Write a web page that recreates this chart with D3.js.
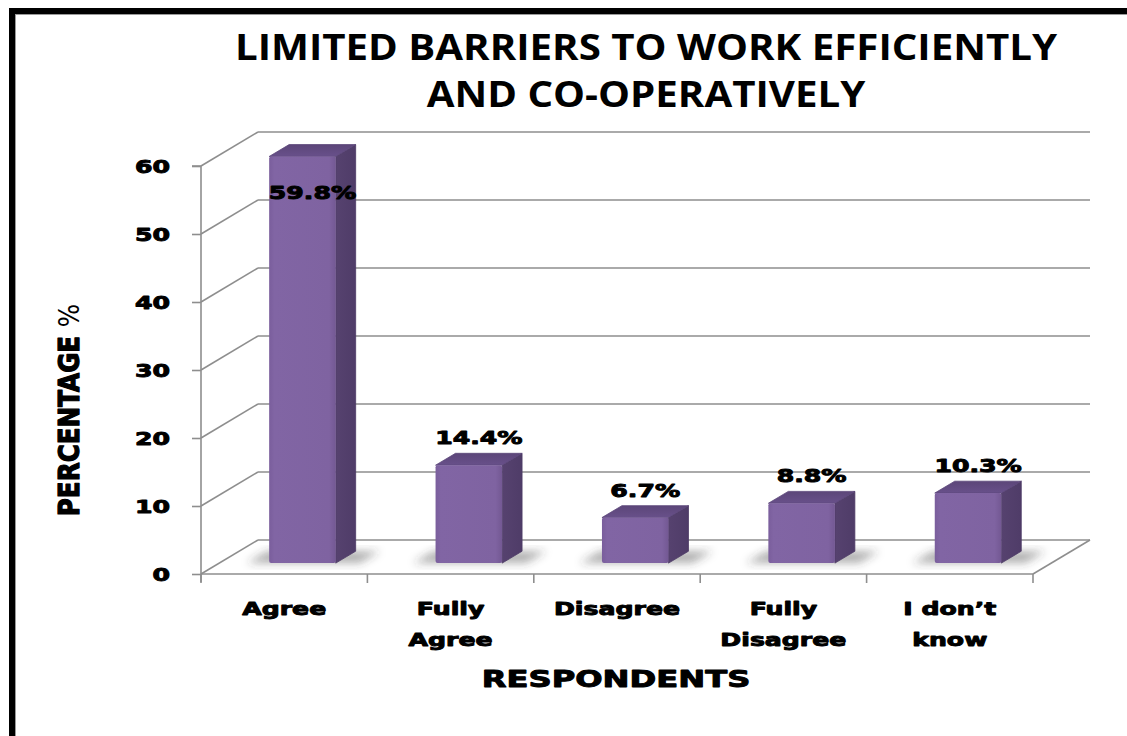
<!DOCTYPE html>
<html>
<head>
<meta charset="utf-8">
<script src="https://cdn.jsdelivr.net/npm/d3@7"></script>
<style>
  html, body { margin: 0; padding: 0; background: #fff; }
  svg { display: block; }
</style>
</head>
<body>
<svg id="chart" width="1127" height="736"></svg>
<script>
// Survey responses: share of respondents per answer
const categories = ["Agree", "Fully Agree", "Disagree", "Fully Disagree", "I don't know"];
const categoryLines = [["Agree"], ["Fully", "Agree"], ["Disagree"], ["Fully", "Disagree"], ["I don\u2019t", "know"]];
const values = [59.8, 14.4, 6.7, 8.8, 10.3];
const yTicks = [0, 10, 20, 30, 40, 50, 60];
const titleLines = ["LIMITED BARRIERS TO WORK EFFICIENTLY", "AND CO-OPERATIVELY"];
const yTitle = "PERCENTAGE";
const xTitle = "RESPONDENTS";

const svg = d3.select("#chart");
const W = 1127, H = 736;

// 3D geometry: front plane scales plus an oblique depth offset
const x = d3.scaleBand().domain(categories).range([201, 1033]).paddingInner(0.6).paddingOuter(0.3);
const y = d3.scaleLinear().domain([0, 60]).range([574, 166]);
const DX = 57, DY = -34;          // full depth of the floor / walls
const barFront = 0.32, barDepth = 0.35;
const px = (xv, t) => xv + DX * t;
const py = (yv, t) => yv + DY * t;

const labelFont = "'DejaVu Sans', 'Liberation Sans', Arial, sans-serif";
const SX = 1.4;
const HEAVY = 0.95;

const defs = svg.append("defs");
const blur = defs.append("filter").attr("id", "shadowBlur")
  .attr("x", "-50%").attr("y", "-50%").attr("width", "200%").attr("height", "200%");
blur.append("feGaussianBlur").attr("stdDeviation", 4);

const gFront = defs.append("linearGradient").attr("id", "frontGrad").attr("x1", 0).attr("x2", 1).attr("y1", 0).attr("y2", 0);
gFront.append("stop").attr("offset", "0%").attr("stop-color", "#7a5e9c");
gFront.append("stop").attr("offset", "8%").attr("stop-color", "#8165a4");
gFront.append("stop").attr("offset", "90%").attr("stop-color", "#7f63a1");
gFront.append("stop").attr("offset", "100%").attr("stop-color", "#735893");

const gSide = defs.append("linearGradient").attr("id", "sideGrad").attr("x1", 0).attr("x2", 1).attr("y1", 0).attr("y2", 0);
gSide.append("stop").attr("offset", "0%").attr("stop-color", "#56426f");
gSide.append("stop").attr("offset", "100%").attr("stop-color", "#4f3c68");

const gTop = defs.append("linearGradient").attr("id", "topGrad").attr("x1", 0).attr("x2", 0).attr("y1", 0).attr("y2", 1);
gTop.append("stop").attr("offset", "0%").attr("stop-color", "#5c4679");
gTop.append("stop").attr("offset", "100%").attr("stop-color", "#68508a");

// Background and frame
svg.append("rect").attr("width", W).attr("height", H).attr("fill", "#fff");
svg.append("rect").attr("x", 9).attr("y", 8).attr("width", W - 9).attr("height", 6).attr("fill", "#000");
svg.append("rect").attr("x", 9).attr("y", 8).attr("width", 6).attr("height", H - 8).attr("fill", "#000");
svg.append("line").attr("x1", 15).attr("x2", W).attr("y1", 14.5).attr("y2", 14.5).attr("stroke", "#9a9a9a").attr("stroke-width", 1);
svg.append("line").attr("x1", 15.5).attr("x2", 15.5).attr("y1", 14).attr("y2", H).attr("stroke", "#9a9a9a").attr("stroke-width", 1);

// Title
const title = svg.append("g").attr("font-family", "'Open Sans', 'Noto Sans', sans-serif")
  .attr("font-weight", 700).attr("font-size", 35).attr("fill", "#000").attr("text-anchor", "middle");
titleLines.forEach((t, i) => {
  title.append("g").attr("transform", `translate(646,${60 + i * 47}) scale(1.15,1)`)
    .append("text").attr("x", 0).attr("y", 0).text(t);
});

const x0 = x.range()[0], x1 = x.range()[1];
const gridColor = "#8e8e8e";

// Floor
const floor = [[x0, y(0)], [x1, y(0)], [px(x1, 1), py(y(0), 1)], [px(x0, 1), py(y(0), 1)]];
svg.append("path").attr("d", d3.line()(floor) + "Z").attr("fill", "#fff");

// Back wall gridlines + side wall diagonals
const grid = svg.append("g").attr("stroke", gridColor).attr("stroke-width", 1.6).attr("fill", "none");
yTicks.forEach(v => {
  grid.append("line").attr("x1", px(x0, 1)).attr("x2", px(x1, 1))
    .attr("y1", py(y(v), 1)).attr("y2", py(y(v), 1));
  grid.append("line").attr("x1", x0).attr("x2", px(x0, 1))
    .attr("y1", y(v)).attr("y2", py(y(v), 1));
});

// Floor edges (front and right)
grid.append("line").attr("x1", x0).attr("x2", x1).attr("y1", y(0)).attr("y2", y(0));
grid.append("line").attr("x1", x1).attr("x2", px(x1, 1)).attr("y1", y(0)).attr("y2", py(y(0), 1));

// Value axis (front-left edge) with ticks
const yAxis = svg.append("g").attr("transform", `translate(${x0},0)`)
  .call(d3.axisLeft(y).tickValues(yTicks).tickSize(9).tickFormat(""));
yAxis.select(".domain").attr("stroke", gridColor).attr("stroke-width", 1.6).attr("d", `M-9,${y(60)}H0V${y(0) + 8}`);
yAxis.selectAll(".tick line").attr("stroke", gridColor).attr("stroke-width", 1.6);

// Category ticks on the floor front edge
const bounds = categories.map(c => x(c) - x.step() * x.paddingOuter()).concat([x1]);
svg.append("g").selectAll("line").data(bounds).join("line")
  .attr("x1", d => d).attr("x2", d => d).attr("y1", y(0)).attr("y2", y(0) + 9)
  .attr("stroke", gridColor).attr("stroke-width", 1.6);

// Heavy, wide label text
function wideText(parent, xPos, yPos, str, size, anchor) {
  const g = parent.append("g").attr("transform", `translate(${xPos},${yPos}) scale(${SX},1)`);
  return g.append("text").attr("text-anchor", anchor || "middle")
    .attr("font-family", labelFont).attr("font-weight", 700).attr("font-size", size)
    .attr("fill", "#000").attr("stroke", "#000").attr("stroke-width", HEAVY)
    .attr("stroke-linejoin", "round")
    .text(str);
}
const tickLabels = svg.append("g");
yTicks.forEach(v => wideText(tickLabels, 170, y(v) + 6.5, String(v), 18, "end"));

// Category labels
const catLabels = svg.append("g");
categories.forEach((c, i) => {
  const cx = x(c) + x.bandwidth() / 2;
  categoryLines[i].forEach((line, j) => wideText(catLabels, cx, 615 + j * 31, line, 18));
});

// Axis titles
wideText(svg, 616, 687, xTitle, 23);
const yt = svg.append("g").attr("transform", `translate(79,410) rotate(-90) scale(1.12,1.32)`)
  .append("text").attr("text-anchor", "middle")
  .attr("font-family", labelFont).attr("font-size", 22).attr("fill", "#000");
yt.append("tspan").attr("font-weight", 700).attr("stroke", "#000").attr("stroke-width", HEAVY)
  .attr("stroke-linejoin", "round").text(yTitle + " ");
yt.append("tspan").attr("font-weight", 400).text("%");

// Bars
const bars = svg.append("g");
const data = categories.map((c, i) => ({ c, v: values[i] }));

// soft floor shadows beneath each bar
bars.append("g").attr("filter", "url(#shadowBlur)").selectAll("path").data(data).join("path")
  .attr("d", d => {
    const a = x(d.c) - 22, b = x(d.c) + x.bandwidth() + 24;
    const t0 = barFront, t1 = barFront + barDepth;
    return d3.line()([[px(a, t0), py(y(0), t0)], [px(b, t0), py(y(0), t0)],
                      [px(b, t1), py(y(0), t1)], [px(a, t1), py(y(0), t1)]]) + "Z";
  })
  .attr("fill", "#3a3a3a").attr("opacity", 0.4);

data.forEach(d => {
  const l = x(d.c), r = x(d.c) + x.bandwidth();
  const t0 = barFront, t1 = barFront + barDepth;
  const yb = y(0), yt0 = y(d.v);
  const g = bars.append("g");
  // side face
  g.append("path").attr("d", d3.line()([[px(r, t0), py(yb, t0)], [px(r, t1), py(yb, t1)],
                                         [px(r, t1), py(yt0, t1)], [px(r, t0), py(yt0, t0)]]) + "Z")
    .attr("fill", "url(#sideGrad)").attr("stroke", "#4d3a66").attr("stroke-width", 0.8).attr("stroke-linejoin", "round");
  // top face
  g.append("path").attr("d", d3.line()([[px(l, t0), py(yt0, t0)], [px(r, t0), py(yt0, t0)],
                                         [px(r, t1), py(yt0, t1)], [px(l, t1), py(yt0, t1)]]) + "Z")
    .attr("fill", "url(#topGrad)").attr("stroke", "#5b4578").attr("stroke-width", 0.8).attr("stroke-linejoin", "round");
  // front face
  g.append("rect").attr("x", px(l, t0)).attr("y", py(yt0, t0))
    .attr("width", r - l).attr("height", yb - yt0).attr("rx", 2)
    .attr("fill", "url(#frontGrad)");
});

// Value labels
const valLabels = svg.append("g");
data.forEach(d => {
  const l = x(d.c);
  const frontTop = py(y(d.v), barFront);
  const cx = px(l, barFront) + x.bandwidth() / 2 + 10;
  const inside = d.v > 0.9 * y.domain()[1];
  const by = inside ? frontTop + 43 : frontTop - 21;
  wideText(valLabels, cx, by, d.v.toFixed(1) + "%", 18);
});
</script>
</body>
</html>
